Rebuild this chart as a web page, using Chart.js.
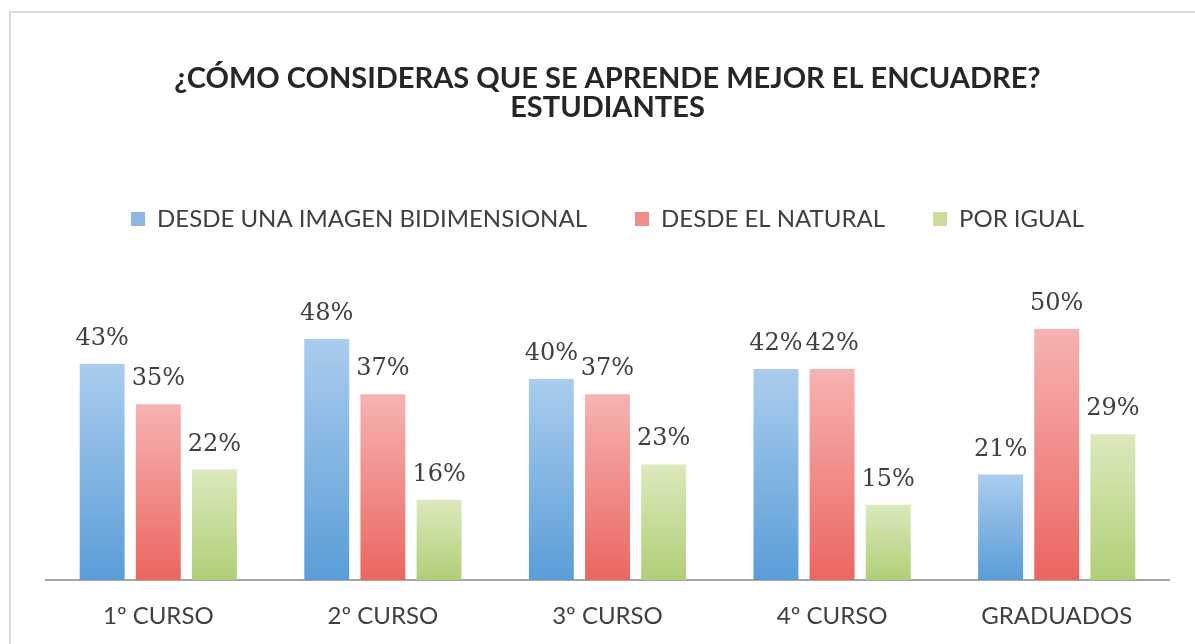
<!DOCTYPE html>
<html>
<head>
<meta charset="utf-8">
<script src="https://cdn.jsdelivr.net/npm/chart.js@4"></script>
<style>
  html, body { margin: 0; padding: 0; background: #fff; }
  #marco { position: absolute; left: 9px; top: 11px; width: 1300px; height: 800px; border: 2px solid #d9d9d9; box-sizing: border-box; }
  #lienzo { position: absolute; left: 0; top: 0; width: 1195px; height: 644px; }
</style>
</head>
<body>
<div id="marco"></div>
<div id="lienzo"><canvas id="grafico" width="1195" height="644"></canvas></div>
<script>
// Datos
const categorias = ['1º CURSO', '2º CURSO', '3º CURSO', '4º CURSO', 'GRADUADOS'];
const series = ['DESDE UNA IMAGEN BIDIMENSIONAL', 'DESDE EL NATURAL', 'POR IGUAL'];
const bidimensional = [43, 48, 40, 42, 21];
const natural = [35, 37, 37, 42, 50];
const porIgual = [22, 16, 23, 15, 29];

// Colores (claro arriba, oscuro abajo)
const claros = ['#aacdee', '#f6b3b2', '#dce9bd'];
const oscuros = ['#5a9dd7', '#eb6660', '#b0cf76'];
const leyenda = ['#8fb6df', '#f08d8a', '#c9dc9c'];

function degradado(context, i) {
    const chart = context.chart;
    if (!chart.chartArea || context.type !== 'data') return oscuros[i];
    const y = chart.scales.y;
    const topo = y.getPixelForValue(context.raw);
    const base = y.getPixelForValue(0);
    const g = chart.ctx.createLinearGradient(0, topo, 0, base);
    g.addColorStop(0, claros[i]);
    g.addColorStop(1, oscuros[i]);
    return g;
}

// Rótulos de porcentaje encima de cada barra
const rotulos = {
    id: 'rotulos',
    afterDatasetsDraw(chart) {
        const ctx = chart.ctx;
        ctx.save();
        ctx.font = '24px "DejaVu Serif"';
        ctx.fillStyle = '#404040';
        ctx.textAlign = 'center';
        ctx.textBaseline = 'alphabetic';
        chart.data.datasets.forEach((ds, i) => {
            chart.getDatasetMeta(i).data.forEach((barra, j) => {
                ctx.fillText(ds.data[j] + '%', barra.x, barra.y - 19);
            });
        });
        ctx.restore();
    }
};

const valores = [bidimensional, natural, porIgual];

new Chart(document.getElementById('grafico'), {
    type: 'bar',
    data: {
        labels: categorias,
        datasets: series.map((nombre, i) => ({
            label: nombre,
            data: valores[i],
            backgroundColor: ctx => degradado(ctx, i),
            borderWidth: 0,
            categoryPercentage: 0.75,
            barPercentage: 0.8
        }))
    },
    options: {
        responsive: false,
        animation: false,
        layout: { padding: { left: 46, right: 26, top: 0, bottom: 0 } },
        plugins: {
            tooltip: { enabled: false },
            title: {
                display: true,
                text: ['¿CÓMO CONSIDERAS QUE SE APRENDE MEJOR EL ENCUADRE?', 'ESTUDIANTES'],
                color: '#262626',
                font: { family: 'Lato', size: 29, weight: 'bold', lineHeight: 1 },
                padding: { top: 64, bottom: 37 }
            },
            legend: {
                display: true,
                labels: {
                    color: '#404040',
                    font: { family: 'Lato', size: 24 },
                    boxWidth: 14,
                    boxHeight: 14,
                    padding: 48,
                    generateLabels: chart => series.map((nombre, i) => ({
                        text: nombre,
                        fillStyle: leyenda[i],
                        strokeStyle: leyenda[i],
                        lineWidth: 0,
                        fontColor: '#404040',
                        hidden: false,
                        datasetIndex: i
                    }))
                }
            }
        },
        scales: {
            x: {
                grid: { display: false, drawTicks: false },
                border: { display: true, color: '#a6a6a6', width: 2 },
                ticks: { color: '#404040', font: { family: 'Lato', size: 24 }, padding: 22 },
                afterFit: scale => { scale.height = 64; }
            },
            y: {
                display: false,
                min: 0,
                max: 67.5
            }
        }
    },
    plugins: [rotulos]
});
</script>
</body>
</html>
